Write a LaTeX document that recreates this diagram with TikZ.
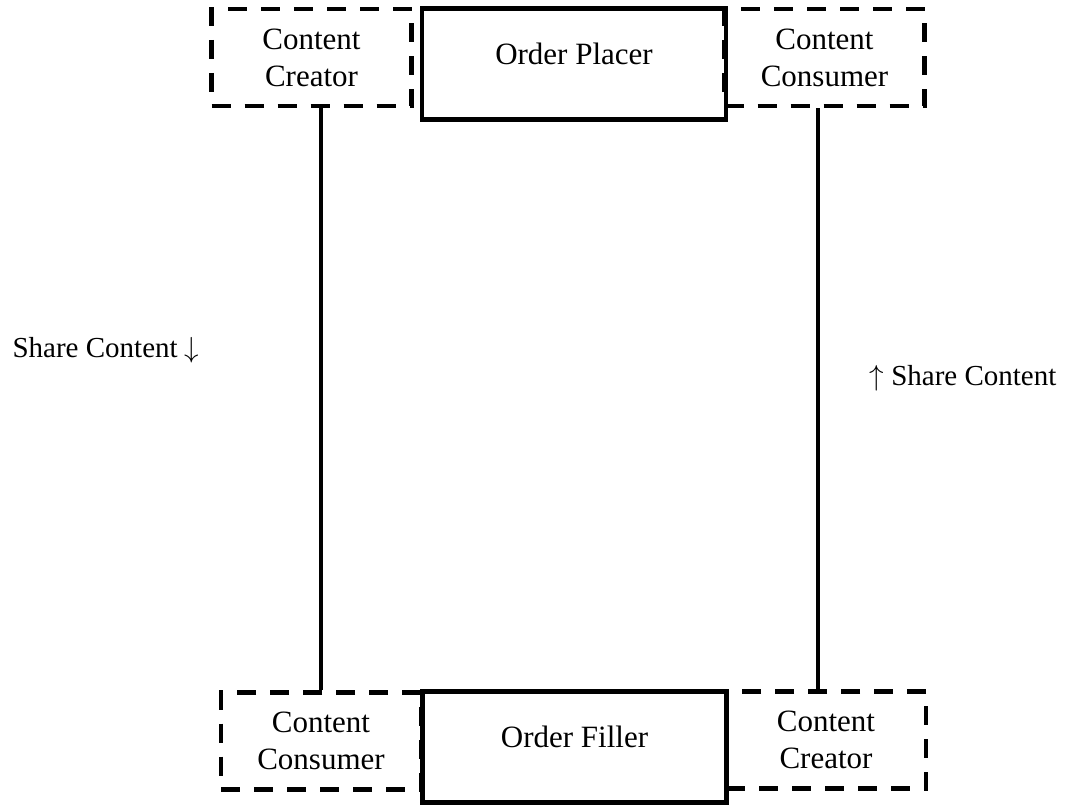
\documentclass[tikz,border=0pt]{standalone}
\usepackage{fix-cm}
\usepackage{fontspec}
\setmainfont{Liberation Serif}
\usepackage{tikz}
\usetikzlibrary{positioning,calc}

\begin{document}
\begin{tikzpicture}[x=1pt,y=-1pt,
	every node/.style={align=center,inner sep=0pt,font=\fontsize{31}{37}\selectfont},
	rolenode/.style={draw,line width=4.5pt,dash pattern=on 19pt off 14pt,minimum width=200pt,minimum height=97pt},
	actornode/.style={draw,line width=4.5pt,minimum width=304pt,minimum height=111pt,text depth=21pt},
	sharelabel/.style={anchor=base,font=\fontsize{29}{35}\selectfont},
	flowline/.style={line width=3.5pt}
	]
	\useasboundingbox (0,0) rectangle (1065,805);
	
	% the top row
	\node[rolenode] (creatorA) at (311.5,57.5) {Content\\Creator};
	\node[rolenode] (consumerA) at (824.5,57.5) {Content\\Consumer};
	\node[actornode] (placer) at (574,64) {Order Placer};
	
	% the bottom row
	\node[rolenode] (consumerB) at (321,741) {Content\\Consumer};
	\node[rolenode] (creatorB) at (826,740) {Content\\Creator};
	\node[actornode] (filler) at (574.5,747) {Order Filler};
	
	% the labels
	\node[sharelabel] (shareA) at (106,357) {Share Content $\downarrow$};
	\node[sharelabel] (shareB) at (963,385) {$\uparrow$ Share Content};
	
	% the edges
	\draw[flowline] (consumerB.north) -- (consumerB.north |- creatorA.south);
	\draw[flowline] ([xshift=-8pt]creatorB.north) -- ([xshift=-8pt]creatorB.north |- consumerA.south);
\end{tikzpicture}
\end{document}
